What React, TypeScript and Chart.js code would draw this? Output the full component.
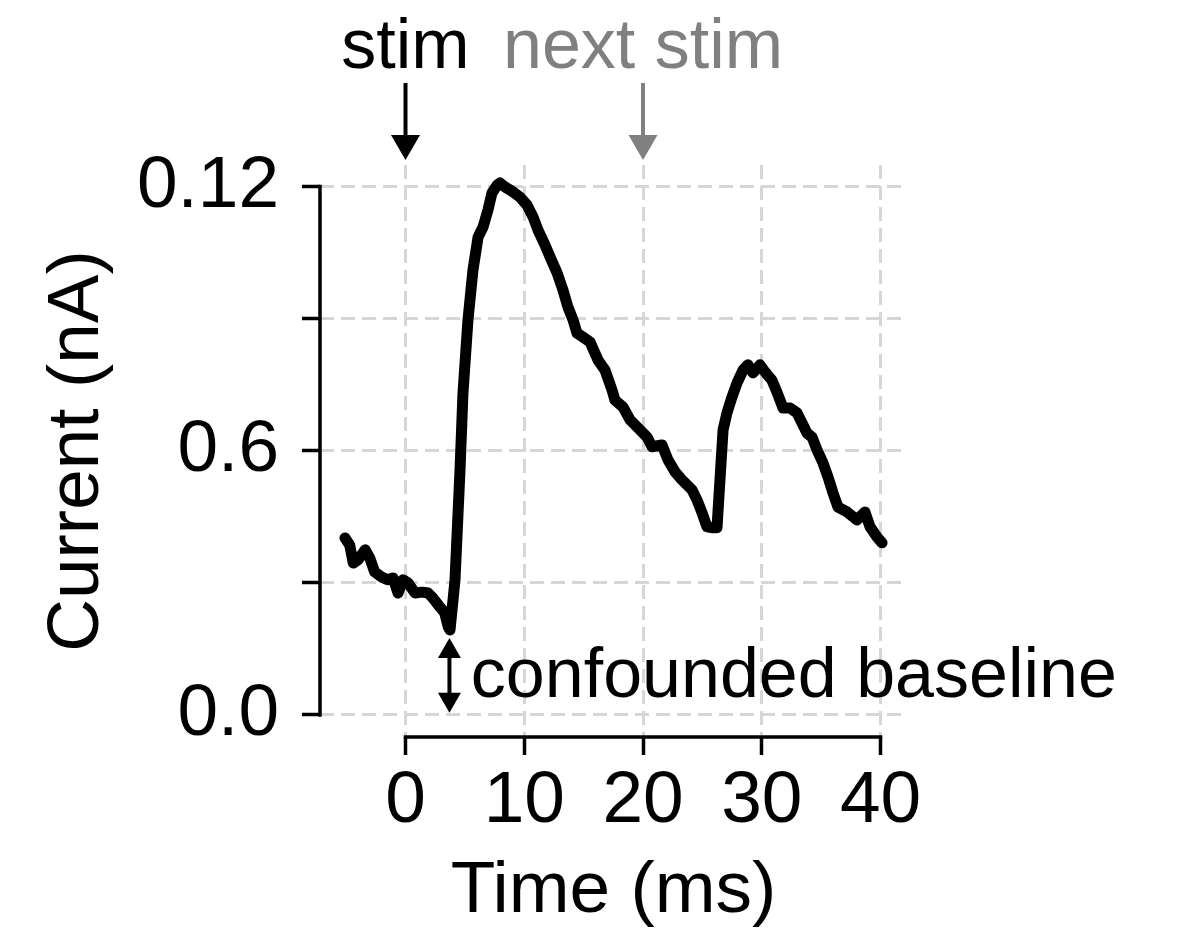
import React, { useEffect, useRef } from "react";
import { Chart, registerables } from "chart.js";

Chart.register(...registerables);

// ---- data ----
const timeMs = [
  -5.1, -4.7, -4.4, -4.0, -3.4, -3.0, -2.6, -2.0, -1.5, -1.05, -0.63, -0.21, 0.21, 0.8, 1.4,
  1.9, 2.3, 2.9, 3.3, 3.6, 3.75, 4.17, 4.59, 4.84, 5.26, 5.68, 6.11, 6.53, 6.95, 7.28, 7.71,
  7.96, 8.38, 9.05, 9.64, 10.23, 10.74, 11.16, 11.75, 12.17, 12.76, 13.26, 13.68, 14.11,
  14.44, 14.95, 15.54, 16.21, 16.8, 17.39, 17.64, 18.32, 18.91, 19.58, 20.34, 20.76, 21.6,
  22.11, 22.7, 23.28, 24.13, 24.55, 24.97, 25.39, 25.89, 26.23, 26.48, 26.74, 27.07, 27.49,
  27.92, 28.42, 28.84, 29.26, 29.85, 30.27, 30.86, 31.28, 31.79, 32.38, 32.97, 33.39, 33.81,
  34.23, 34.65, 35.16, 35.58, 36.0, 36.42, 37.18, 38.02, 38.69, 39.12, 39.71, 40.13,
];
const currentNA = [
  0.0402, 0.0386, 0.0345, 0.0352, 0.0375, 0.0356, 0.0325, 0.0313, 0.0307, 0.0311, 0.0277,
  0.0307, 0.03, 0.0277, 0.0279, 0.0277, 0.0266, 0.0245, 0.0232, 0.02, 0.0193, 0.0307, 0.0556,
  0.0731, 0.0897, 0.101, 0.1085, 0.1108, 0.1147, 0.1185, 0.1203, 0.1208, 0.1199, 0.1188,
  0.1176, 0.1158, 0.1131, 0.1101, 0.1067, 0.104, 0.1004, 0.0965, 0.0926, 0.0897, 0.0867,
  0.0858, 0.0847, 0.0806, 0.0783, 0.0738, 0.0715, 0.0699, 0.067, 0.0652, 0.0631, 0.0609,
  0.0613, 0.0579, 0.0552, 0.0534, 0.0511, 0.0488, 0.0459, 0.0427, 0.0425, 0.0425, 0.0534,
  0.0647, 0.0686, 0.0722, 0.0754, 0.0783, 0.0795, 0.0777, 0.0795, 0.0779, 0.076, 0.0733,
  0.0697, 0.0697, 0.0686, 0.0663, 0.064, 0.0631, 0.0602, 0.0572, 0.054, 0.0504, 0.0472,
  0.0461, 0.0443, 0.0461, 0.0427, 0.0404, 0.0391,
];
const xTicks = [0, 10, 20, 30, 40];
const xTickLabels = ["0", "10", "20", "30", "40"];
const yTicks = [0, 0.03, 0.06, 0.09, 0.12];
const yTickLabels = ["0.0", "", "0.6", "", "0.12"];
const stimTimes = [0, 20];
const stimLabels = ["stim", "next stim"];
const stimColors = ["#000000", "#808080"];
const baselineTime = 3.7;
const baselineLabel = "confounded baseline";
const xTitle = "Time (ms)";
const yTitle = "Current (nA)";

const FONT = "'Liberation Sans', Arial, Helvetica, sans-serif";
const FS = 73;
const FS_ANNOT = 70;

function drawArrowHead(ctx: CanvasRenderingContext2D, x: number, tipY: number, dir: number, w: number, h: number) {
  ctx.beginPath();
  ctx.moveTo(x, tipY);
  ctx.lineTo(x - w / 2, tipY - dir * h);
  ctx.lineTo(x + w / 2, tipY - dir * h);
  ctx.closePath();
  ctx.fill();
}

const annotationPlugin = {
  id: "annotations",
  afterDraw(chart: any) {
    const { ctx, chartArea } = chart;
    const xs = chart.scales.x;
    const ys = chart.scales.y;
    ctx.save();
    // spines
    ctx.strokeStyle = "#000";
    ctx.lineWidth = 3.5;
    ctx.lineCap = "square";
    ctx.beginPath();
    ctx.moveTo(chartArea.left, ys.getPixelForValue(yTicks[0]));
    ctx.lineTo(chartArea.left, ys.getPixelForValue(yTicks[yTicks.length - 1]));
    ctx.moveTo(xs.getPixelForValue(xTicks[0]), chartArea.bottom);
    ctx.lineTo(xs.getPixelForValue(xTicks[xTicks.length - 1]), chartArea.bottom);
    ctx.stroke();

    // stim arrows + labels
    ctx.lineCap = "butt";
    ctx.font = `${FS_ANNOT}px ${FONT}`;
    ctx.textAlign = "center";
    ctx.textBaseline = "alphabetic";
    stimTimes.forEach((t, i) => {
      const px = xs.getPixelForValue(t);
      const tail = ys.getPixelForValue(0.1435);
      const tip = ys.getPixelForValue(0.126);
      ctx.strokeStyle = stimColors[i];
      ctx.fillStyle = stimColors[i];
      ctx.lineWidth = 4;
      ctx.beginPath();
      ctx.moveTo(px, tail);
      ctx.lineTo(px, tip - 20);
      ctx.stroke();
      drawArrowHead(ctx, px, tip, 1, 29, 25);
      ctx.fillText(stimLabels[i], px, ys.getPixelForValue(0.1469));
    });

    // confounded baseline double arrow
    const bx = xs.getPixelForValue(baselineTime);
    const top = ys.getPixelForValue(0.0175);
    const bot = ys.getPixelForValue(0.0005);
    ctx.strokeStyle = "#000";
    ctx.fillStyle = "#000";
    ctx.lineWidth = 4;
    ctx.beginPath();
    ctx.moveTo(bx, top + 15);
    ctx.lineTo(bx, bot - 15);
    ctx.stroke();
    drawArrowHead(ctx, bx, top, -1, 23, 20);
    drawArrowHead(ctx, bx, bot, 1, 23, 20);
    ctx.textAlign = "left";
    ctx.fillText(baselineLabel, xs.getPixelForValue(5.5), ys.getPixelForValue(0.0041));
    ctx.restore();
  },
};

export default function App() {
  const ref = useRef<HTMLCanvasElement | null>(null);
  useEffect(() => {
    if (!ref.current) return;
    Chart.defaults.font.family = FONT;
    const chart = new Chart(ref.current, {
      type: "line",
      data: {
        datasets: [
          {
            data: timeMs.map((t, i) => ({ x: t, y: currentNA[i] })),
            borderColor: "#000",
            borderWidth: 11,
            borderJoinStyle: "round",
            borderCapStyle: "round",
            pointRadius: 0,
            tension: 0,
            fill: false,
          },
        ],
      },
      options: {
        responsive: false,
        animation: false,
        layout: { padding: { top: 165, right: 271, bottom: 0, left: 0 } },
        plugins: { legend: { display: false }, tooltip: { enabled: false } },
        scales: {
          x: {
            type: "linear",
            min: -7.2,
            max: 42.23,
            afterFit: (s: any) => {
              s.height = 200;
            },
            afterBuildTicks: (axis: any) => {
              axis.ticks = xTicks.map((v) => ({ value: v }));
            },
            ticks: {
              padding: 3,
              color: "#000",
              font: { size: FS, lineHeight: 1.2 },
              maxRotation: 0,
              autoSkip: false,
              callback: (v: any) => {
                const i = xTicks.indexOf(Number(v));
                return i >= 0 ? xTickLabels[i] : "";
              },
            },
            grid: {
              color: "#d6d6d6",
              lineWidth: 3,
              tickLength: 18,
              tickColor: "#000",
              tickWidth: 3.5,
            },
            border: { display: false, dash: [14, 7] },
            title: {
              display: true,
              text: xTitle,
              color: "#000",
              font: { size: FS, lineHeight: 1.2 },
              padding: { top: 0, bottom: 1.5 },
            },
          },
          y: {
            type: "linear",
            min: -0.005,
            max: 0.12488,
            afterFit: (s: any) => {
              s.width = 320;
            },
            afterBuildTicks: (axis: any) => {
              axis.ticks = yTicks.map((v) => ({ value: v }));
            },
            ticks: {
              padding: 23,
              color: "#000",
              font: { size: FS, lineHeight: 1.2 },
              autoSkip: false,
              callback: (v: any) => {
                const i = yTicks.findIndex((t) => Math.abs(t - Number(v)) < 1e-9);
                return i >= 0 ? yTickLabels[i] : "";
              },
            },
            grid: {
              color: "#d6d6d6",
              lineWidth: 3,
              tickLength: 18,
              tickColor: "#000",
              tickWidth: 3.5,
            },
            border: { display: false, dash: [14, 7] },
            title: {
              display: true,
              text: yTitle,
              color: "#000",
              font: { size: FS, lineHeight: 1.2 },
              padding: { top: 34, bottom: 0 },
            },
          },
        },
      },
      plugins: [annotationPlugin],
    } as any);
    return () => chart.destroy();
  }, []);
  return (
    <div style={{ position: "absolute", left: 0, top: 0, width: 1178, height: 937, background: "#fff" }}>
      <canvas ref={ref} width={1178} height={937} style={{ width: 1178, height: 937, display: "block" }} />
    </div>
  );
}
